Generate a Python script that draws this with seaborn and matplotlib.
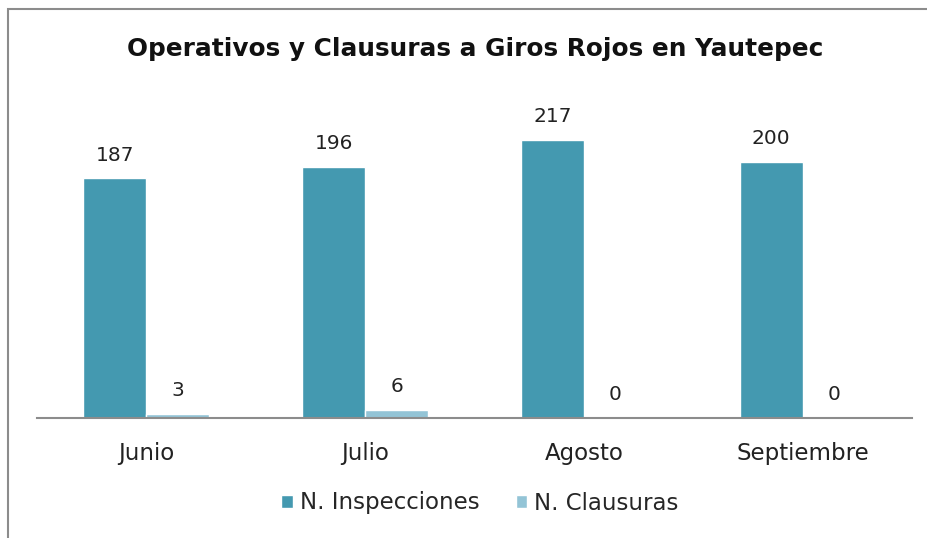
import matplotlib
matplotlib.use("Agg")
import matplotlib.pyplot as plt
import seaborn as sns
import pandas as pd
from matplotlib.patches import Rectangle

# datos
meses = ["Junio", "Julio", "Agosto", "Septiembre"]
inspecciones = [187, 196, 217, 200]
clausuras = [3, 6, 0, 0]
series = ["N. Inspecciones", "N. Clausuras"]
colores = ["#4499B0", "#93C4D6"]

df = pd.DataFrame({
    "mes": meses * 2,
    "valor": inspecciones + clausuras,
    "serie": [series[0]] * len(meses) + [series[1]] * len(meses),
})

sns.set_theme(style="white")
plt.rcParams["font.family"] = ["DejaVu Sans"]

fig = plt.figure(figsize=(9.28, 5.38), dpi=100)
ax = fig.add_axes([37 / 928, 120 / 538, 875 / 928, 320.3 / 538])

sns.barplot(data=df, x="mes", y="valor", hue="serie", palette=colores,
            width=0.576, gap=0, saturation=1, ax=ax, legend=True)

for cont in ax.containers:
    ax.bar_label(cont, labels=[f"{v:.0f}" for v in cont.datavalues],
                 padding=10, fontsize=14.5, color="#222222")

ax.set_ylim(0, 250)
ax.set_xlim(-0.5, 3.5)
ax.set_xlabel("")
ax.set_ylabel("")
ax.set_yticks([])
ax.tick_params(axis="x", labelsize=16.5, colors="#222222", pad=17, length=0)
for s in ["top", "right", "left"]:
    ax.spines[s].set_visible(False)
ax.spines["bottom"].set_color("#8c8c8c")
ax.spines["bottom"].set_linewidth(1.5)

ax.legend(loc="center", bbox_to_anchor=(480 / 928, 1 - 503 / 538),
          bbox_transform=fig.transFigure, ncol=2, frameon=False,
          fontsize=16.5, handlelength=0.5, handleheight=0.5,
          handletextpad=0.3, columnspacing=1.6)

fig.text(475 / 928, 1 - 49 / 538, "Operativos y Clausuras a Giros Rojos en Yautepec",
         ha="center", va="center", fontsize=17.8, fontweight="bold", color="#111111")

# marco del grafico
fig.add_artist(Rectangle((8 / 928, -0.1), 1.2, 1.1 - 9 / 538,
                         transform=fig.transFigure, fill=False,
                         edgecolor="#8c8c8c", linewidth=1.5))

fig.savefig("out.png", dpi=100)
